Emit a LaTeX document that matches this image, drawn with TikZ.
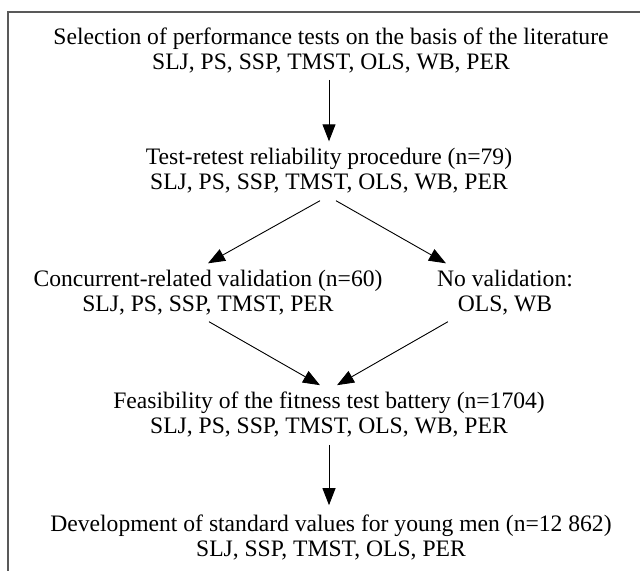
\documentclass[tikz,border=0pt]{standalone}
\usepackage{fontspec}
\setmainfont{Liberation Serif}
\usetikzlibrary{arrows.meta}

\begin{document}
\begin{tikzpicture}[x=1pt,y=-1pt,
	StageStyle/.style = {align=center, inner sep=0pt, font=\fontsize{23.6}{25}\selectfont},
	FlowStyle/.style = {line width=0.9pt, -{Triangle[length=17pt,width=13pt]}},
	FrameStyle/.style = {line width=1.5pt, color=black!65}]
	\useasboundingbox (0,0) rectangle (640,571);
	\draw[FrameStyle] (640,12) -- (8,12) -- (8,571);
	% stages
	\node[StageStyle] (sel) at (331,51) {Selection of performance tests on the basis of the literature\\SLJ, PS, SSP, TMST, OLS, WB, PER};
	\node[StageStyle] (ret) at (329,171) {Test-retest reliability procedure (n=79)\\SLJ, PS, SSP, TMST, OLS, WB, PER};
	\node[StageStyle] (con) at (208,293) {Concurrent-related validation (n=60)\\SLJ, PS, SSP, TMST, PER};
	\node[StageStyle] (nov) at (505,293) {No validation:\\OLS, WB};
	\node[StageStyle] (fea) at (329,414) {Feasibility of the fitness test battery (n=1704)\\SLJ, PS, SSP, TMST, OLS, WB, PER};
	\node[StageStyle] (dev) at (331,537) {Development of standard values for young men (n=12 862)\\SLJ, SSP, TMST, OLS, PER};
	% arrows
	\draw[FlowStyle] ([xshift=-2pt,yshift=-6pt]sel.south) -- ([yshift=7pt]ret.north);
	\draw[FlowStyle] ([xshift=-9pt,yshift=-7pt]ret.south) -- ([yshift=7pt]con.north);
	\draw[FlowStyle] ([xshift=7pt,yshift=-7pt]ret.south) -- ([xshift=9pt,yshift=7pt]nov.north west);
	\draw[FlowStyle] ([xshift=1pt,yshift=-6pt]con.south) -- ([xshift=-9pt,yshift=6pt]fea.north);
	\draw[FlowStyle] ([xshift=11pt,yshift=-6pt]nov.south west) -- ([xshift=8pt,yshift=6pt]fea.north);
	\draw[FlowStyle] ([yshift=-8pt]fea.south) -- ([xshift=-2pt,yshift=9pt]dev.north);
\end{tikzpicture}
\end{document}
